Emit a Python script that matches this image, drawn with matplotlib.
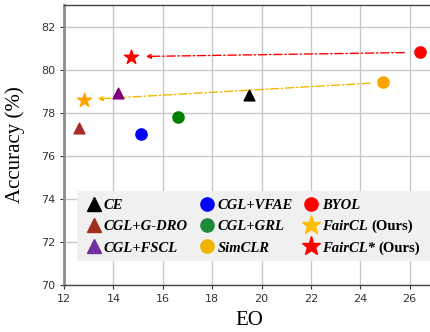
import matplotlib
matplotlib.use("Agg")
import matplotlib.pyplot as plt
from matplotlib.font_manager import FontProperties
from matplotlib.patches import Rectangle

methods = ["CE", "CGL+G-DRO", "CGL+FSCL", "CGL+VFAE", "CGL+GRL", "SimCLR", "BYOL", "FairCL", "FairCL*"]
eo = [19.5, 12.6, 14.2, 15.1, 16.6, 24.9, 26.4, 12.8, 14.7]
acc = [78.8, 77.3, 78.9, 77.0, 77.8, 79.4, 80.8, 78.6, 80.6]
ours = [False, False, False, False, False, False, False, True, True]
markers = ["^", "^", "^", "o", "o", "o", "o", "*", "*"]
colors = ["black", "#a52a2a", "purple", "blue", "green", "orange", "red", "orange", "red"]
legend_colors = ["black", "#a0301c", "#7030a0", "blue", "#1e8a3c", "#f2b200", "red", "#ffbf00", "red"]
sizes = [60, 60, 60, 65, 65, 65, 65, 110, 110]
x_ticks = [12, 14, 16, 18, 20, 22, 24, 26]
y_ticks = [70, 72, 74, 76, 78, 80, 82]

fig = plt.figure(figsize=(4.3, 3.32), dpi=100)
ax = fig.add_axes([0.149, 0.142, 0.86, 0.843])
ax.set_xlim(12, 26.98)
ax.set_ylim(70, 83)
ax.set_xticks(x_ticks)
ax.set_yticks(y_ticks)
ax.grid(True, color='#c8c8c8', linewidth=1.0)
ax.set_axisbelow(True)
for name in ['top', 'bottom', 'right']:
    ax.spines[name].set_color('#444444')
    ax.spines[name].set_linewidth(1.0)
ax.spines['left'].set_color('#8c8c8c')
ax.spines['left'].set_linewidth(2.0)
ax.tick_params(labelsize=8, length=3, color='#333333', labelcolor='#333333')

for i in range(len(methods)):
    ax.scatter(eo[i], acc[i], marker=markers[i], s=sizes[i], color=colors[i], zorder=3)

# arrows: SimCLR -> FairCL, BYOL -> FairCL*
ax.annotate("", xy=(eo[7], acc[7]), xytext=(eo[5], acc[5]),
            arrowprops=dict(arrowstyle='-|>', linestyle=(0, (6, 2, 1, 2)), color='#f2b800', lw=1.0,
                            shrinkA=9, shrinkB=10, mutation_scale=7), zorder=2)
ax.annotate("", xy=(eo[8], acc[8]), xytext=(eo[6], acc[6]),
            arrowprops=dict(arrowstyle='-|>', linestyle=(0, (6, 2, 1, 2)), color='red', lw=1.0,
                            shrinkA=11, shrinkB=11, mutation_scale=7), zorder=2)

ax.set_xlabel("EO", family='Liberation Serif', fontsize=15)
ax.set_ylabel("Accuracy (%)", family='Liberation Serif', fontsize=15)
ax.xaxis.set_label_coords(0.5, -0.093)
ax.yaxis.set_label_coords(-0.105, 0.5)

fp_bi = FontProperties(family='Liberation Serif', weight='bold', style='italic', size=10.5)
fp_b = FontProperties(family='Liberation Serif', weight='bold', style='normal', size=10.5)

# legend background
ax.add_patch(Rectangle((0.035, 0.085), 1.0, 0.252, transform=ax.transAxes,
                       facecolor='#f0f0f0', edgecolor='none', zorder=4.5, clip_on=False))

handles = [plt.Line2D([], [], linestyle='none', marker=markers[i], color=legend_colors[i],
                      markersize=(14 if markers[i] == '*' else 9.5)) for i in range(len(methods))]
leg = ax.legend(handles, methods, ncol=3, loc='lower left', bbox_to_anchor=(0.035, 0.085),
                borderaxespad=0, frameon=False, prop=fp_bi,
                handletextpad=0.0, columnspacing=0.6, labelspacing=0.55, handlelength=1.4,
                borderpad=0.45)
leg.set_zorder(5)

# "(Ours)" in upright bold after the italic method name
for t, o in zip(leg.get_texts(), ours):
    if o:
        ax.annotate("(Ours)", xy=(1, 0), xycoords=t, xytext=(3.0, 0), textcoords='offset points',
                    ha='left', va='bottom', fontproperties=fp_b, color='black', zorder=6,
                    annotation_clip=False)

fig.canvas.draw()
fig.savefig("out.png", dpi=100)
